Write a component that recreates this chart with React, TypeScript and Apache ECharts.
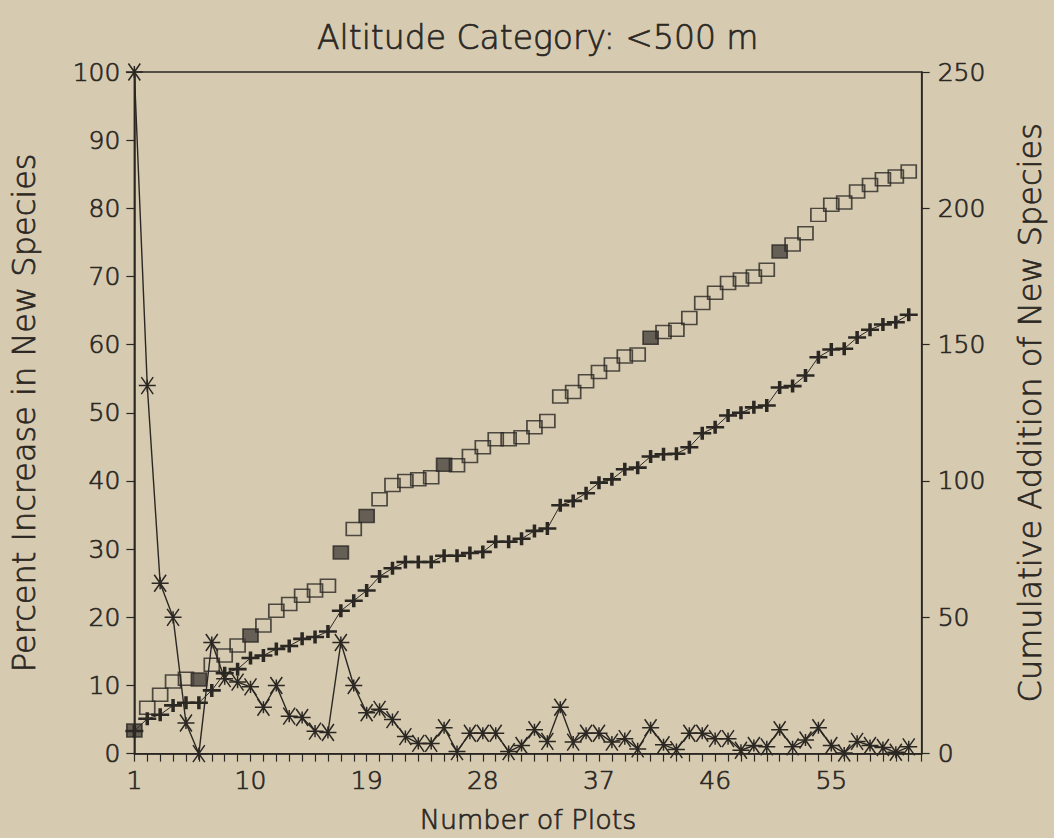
import React, { useEffect, useRef } from "react";
import * as echarts from "echarts";

// ---- data ----
const plots = [
  1, 2, 3, 4, 5, 6, 7, 8, 9, 10, 11, 12, 13, 14, 15, 16, 17, 18, 19, 20,
  21, 22, 23, 24, 25, 26, 27, 28, 29, 30, 31, 32, 33, 34, 35, 36, 37, 38, 39, 40,
  41, 42, 43, 44, 45, 46, 47, 48, 49, 50, 51, 52, 53, 54, 55, 56, 57, 58, 59, 60, 61,
];

// asterisk series, left axis (%)
const percentIncrease = [
  100, 54, 25, 20, 4.5, 0, 16.3, 11, 10.5, 9.8,
  6.8, 10, 5.5, 5.3, 3.3, 3.1, 16.3, 10, 6, 6.5,
  5, 2.5, 1.5, 1.5, 3.8, 0.3, 3, 3, 3, 0.3,
  1.2, 3.5, 1.8, 6.8, 1.7, 3, 3, 1.7, 2.2, 0.7,
  3.8, 1.3, 0.6, 3, 3, 2.2, 2.2, 0.5, 1.2, 1,
  3.5, 1, 2, 3.8, 1.2, 0.1, 1.8, 1.2, 0.9, 0.2, 1,
];

// open-square series, right axis
const cumulativeSquares = [
  8.5, 16.8, 21.6, 26.5, 27.5, 27.2, 32.6, 36, 39.7, 43.3,
  47, 52.4, 54.9, 57.9, 59.8, 61.6, 73.8, 82.4, 87.2, 93.3,
  98.5, 100, 100.6, 101.4, 106, 105.8, 109.2, 112.4, 115.3, 115.3,
  116, 119.7, 122, 131, 132.6, 136.6, 140, 142.7, 145.7, 146.4,
  152.5, 154.6, 155.5, 159.8, 165.3, 169, 172.6, 173.9, 175, 177.5,
  184.2, 186.7, 190.9, 197.6, 201.3, 202.1, 206.2, 208.6, 210.7, 211.7, 213.5,
];

// plus series, right axis
const cumulativePlus = [
  8.3, 12.8, 14.3, 17.7, 18.7, 18.7, 23.2, 29.5, 31, 35.1,
  36, 38.4, 39.5, 42.1, 42.8, 44.8, 52.4, 56.1, 59.8, 65,
  68, 70.3, 70.3, 70.3, 72.6, 72.6, 73.6, 74, 77.7, 77.7,
  78.8, 81.7, 82.6, 91.1, 92.7, 95.5, 99.4, 100.6, 104.3, 104.9,
  109, 109.8, 110, 112.4, 117.5, 119.7, 124, 125, 127, 127.7,
  134.3, 134.8, 138.7, 145.4, 148.2, 148.5, 152.6, 155.5, 157.4, 158.2, 161,
];

const filledSquarePlots = [1, 6, 10, 17, 19, 25, 41, 51];
const xTickLabels = [1, 10, 19, 28, 37, 46, 55];

// ---- styles ----
const BG = "#d6cbb1";
const INK = "#2b2723";
const FONT = "'DejaVu Sans', 'Liberation Sans', sans-serif";
const TXT = { fontFamily: FONT, fontWeight: 300, color: INK, textBorderColor: INK, textBorderWidth: 0.7 };
const ASTERISK = "path://M0,10L20,10M3,3L17,17M3,17L17,3M10,5L10,15";
const PLUS = "path://M0,6L20,6M10,0L10,12";

export default function App() {
  const ref = useRef<HTMLDivElement>(null);

  useEffect(() => {
    if (!ref.current) return;
    const chart = echarts.init(ref.current, null, { renderer: "svg" });

    const option = {
      animation: false,
      backgroundColor: BG,
      title: {
        text: "Altitude Category: <500 m",
        left: 312,
        top: 16,
        textStyle: { ...TXT, fontSize: 33 },
      },
      grid: {
        left: 132,
        right: 118,
        top: 72,
        bottom: 83,
        show: true,
        borderColor: INK,
        borderWidth: 1.5,
        backgroundColor: "transparent",
      },
      xAxis: {
        type: "value",
        min: 1,
        max: 62,
        interval: 1,
        name: "Number of Plots",
        nameLocation: "middle",
        nameGap: 52,
        nameTextStyle: { ...TXT, fontSize: 27 },
        axisLine: { show: true, lineStyle: { color: INK, width: 1.5 } },
        axisTick: { show: true, inside: false, length: 8, lineStyle: { color: INK, width: 1.2 } },
        axisLabel: {
          show: true,
          margin: 14,
          ...TXT,
          fontSize: 25,
          formatter: (v: number) => (xTickLabels.includes(v) ? String(v) : ""),
        },
        splitLine: { show: false },
      },
      yAxis: [
        {
          type: "value",
          min: 0,
          max: 100,
          interval: 10,
          position: "left",
          name: "Percent Increase in New Species",
          nameLocation: "middle",
          nameGap: 94,
          nameRotate: 90,
          nameTextStyle: { ...TXT, fontSize: 32 },
          axisLine: { show: true, lineStyle: { color: INK, width: 1.5 } },
          axisTick: { show: true, inside: false, length: 8, lineStyle: { color: INK, width: 1.2 } },
          axisLabel: { margin: 14, ...TXT, fontSize: 25 },
          splitLine: { show: false },
        },
        {
          type: "value",
          min: 0,
          max: 250,
          interval: 50,
          position: "right",
          name: "Cumulative Addition of New Species",
          nameLocation: "middle",
          nameGap: 92,
          nameRotate: 90,
          nameTextStyle: { ...TXT, fontSize: 32 },
          axisLine: { show: true, lineStyle: { color: INK, width: 1.5 } },
          axisTick: { show: true, inside: false, length: 8, lineStyle: { color: INK, width: 1.2 } },
          axisLabel: { margin: 16, ...TXT, fontSize: 25 },
          splitLine: { show: false },
        },
      ],
      series: [
        {
          name: "Cumulative Addition of New Species (squares)",
          type: "scatter",
          yAxisIndex: 1,
          symbol: "rect",
          symbolSize: [15, 13],
          clip: false,
          itemStyle: { color: "transparent", borderColor: INK, borderWidth: 1.6 },
          data: plots.map((p, i) => ({
            value: [p, cumulativeSquares[i]],
            itemStyle: filledSquarePlots.includes(p)
              ? { color: "#4a443e", borderColor: INK, borderWidth: 1.6 }
              : undefined,
          })),
          z: 3,
        },
        {
          name: "Cumulative Addition of New Species (plus)",
          type: "line",
          yAxisIndex: 1,
          symbol: PLUS,
          symbolSize: [18, 13],
          showSymbol: true,
          showAllSymbol: true,
          clip: false,
          lineStyle: { color: INK, width: 1 },
          itemStyle: { color: INK, borderColor: INK, borderWidth: 3 },
          data: plots.map((p, i) => [p, cumulativePlus[i]]),
          z: 4,
        },
        {
          name: "Percent Increase in New Species",
          type: "line",
          yAxisIndex: 0,
          symbol: ASTERISK,
          symbolSize: 17,
          showSymbol: true,
          showAllSymbol: true,
          clip: false,
          lineStyle: { color: INK, width: 1.4 },
          itemStyle: { color: INK, borderColor: INK, borderWidth: 1.5 },
          data: plots.map((p, i) => [p, percentIncrease[i]]),
          z: 5,
        },
      ],
    };

    chart.setOption(option as any);
    return () => chart.dispose();
  }, []);

  return (
    <div style={{ position: "absolute", left: 0, top: 0, width: 1054, height: 838, background: BG }}>
      <div ref={ref} style={{ width: 1054, height: 838 }} />
    </div>
  );
}
